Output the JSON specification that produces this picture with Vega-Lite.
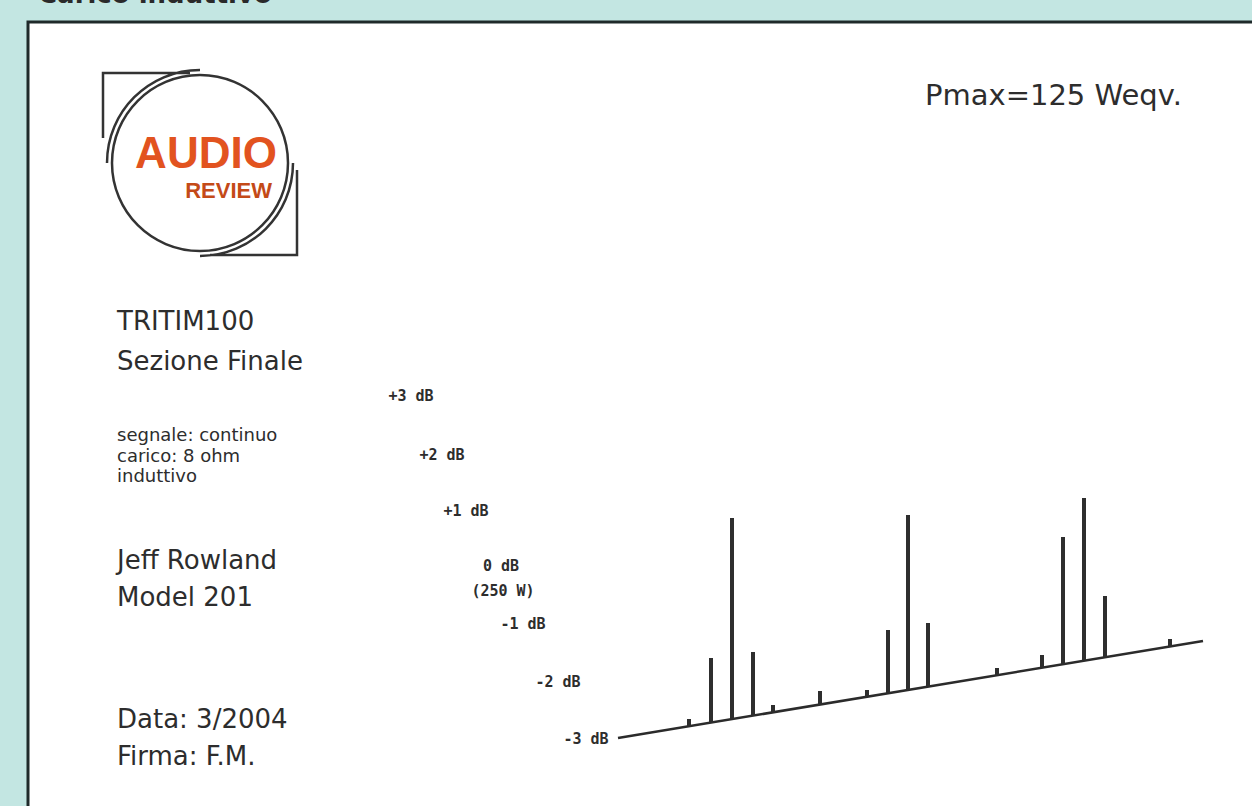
{
  "$schema": "https://vega.github.io/schema/vega-lite/v6.json",
  "width": 1252,
  "height": 806,
  "autosize": {"type": "none"},
  "padding": 0,
  "background": "#c3e6e2",
  "config": {"view": {"stroke": null}},
  "datasets": {
    "panel": [{"x": 28, "x2": 1275, "y": 22, "y2": 840}],
    "logo": [{"x": 200, "y": 163}],
    "audio": [{"x": 206, "y": 168, "text": "AUDIO"}],
    "review": [{"x": 272, "y": 198, "text": "REVIEW"}],
    "pmax": [{"x": 925, "y": 96, "text": "Pmax=125 Weqv."}],
    "title": [{"x": 38, "y": 3, "text": "Carico induttivo"}],
    "bigText": [
      {"x": 117, "y": 322, "text": "TRITIM100"},
      {"x": 117, "y": 362, "text": "Sezione Finale"},
      {"x": 117, "y": 561, "text": "Jeff Rowland"},
      {"x": 117, "y": 598, "text": "Model 201"},
      {"x": 117, "y": 720, "text": "Data: 3/2004"},
      {"x": 117, "y": 757, "text": "Firma: F.M."}
    ],
    "smallText": [
      {"x": 117, "y": 436, "text": "segnale: continuo"},
      {"x": 117, "y": 456.5, "text": "carico: 8 ohm"},
      {"x": 117, "y": 477, "text": "induttivo"}
    ],
    "dbLabels": [
      {"x": 411, "y": 396, "text": "+3 dB"},
      {"x": 442, "y": 455, "text": "+2 dB"},
      {"x": 466, "y": 511, "text": "+1 dB"},
      {"x": 501, "y": 566, "text": "0 dB"},
      {"x": 503, "y": 591, "text": "(250 W)"},
      {"x": 523, "y": 624, "text": "-1 dB"},
      {"x": 558, "y": 682, "text": "-2 dB"},
      {"x": 586, "y": 739, "text": "-3 dB"}
    ],
    "baseline": [{"x": 618, "y": 738, "x2": 1203, "y2": 641}],
    "spikes": [
      {"x": 689, "base": 726.5, "top": 719},
      {"x": 711, "base": 722.9, "top": 658},
      {"x": 732, "base": 719.4, "top": 518},
      {"x": 753, "base": 715.9, "top": 652},
      {"x": 773, "base": 712.6, "top": 705},
      {"x": 820, "base": 704.7, "top": 691},
      {"x": 867, "base": 696.9, "top": 690},
      {"x": 888, "base": 693.4, "top": 630},
      {"x": 908, "base": 690.1, "top": 515},
      {"x": 928, "base": 686.8, "top": 623},
      {"x": 997, "base": 675.3, "top": 668},
      {"x": 1042, "base": 667.8, "top": 655},
      {"x": 1063, "base": 664.3, "top": 537},
      {"x": 1084, "base": 660.8, "top": 498},
      {"x": 1105, "base": 657.3, "top": 596},
      {"x": 1170, "base": 646.5, "top": 639}
    ]
  },
  "layer": [
    {
      "data": {"name": "panel"},
      "mark": {"type": "rect", "fill": "#ffffff", "stroke": "#1f2a2a", "strokeWidth": 3},
      "encoding": {
        "x": {"field": "x", "type": "quantitative", "axis": null, "scale": {"domain": [0, 1252], "nice": false, "zero": false}},
        "x2": {"field": "x2"},
        "y": {"field": "y", "type": "quantitative", "axis": null, "scale": {"domain": [0, 806], "reverse": true, "nice": false, "zero": false}},
        "y2": {"field": "y2"}
      }
    },
    {
      "data": {"name": "title"},
      "mark": {"type": "text", "align": "left", "baseline": "alphabetic", "font": "DejaVu Sans", "fontSize": 26, "fontWeight": "bold", "color": "#2a2a2a"},
      "encoding": {
        "x": {"field": "x", "type": "quantitative"},
        "y": {"field": "y", "type": "quantitative"},
        "text": {"field": "text"}
      }
    },
    {
      "data": {"name": "logo"},
      "mark": {"type": "point", "shape": "M 0.88 0 A 0.88 0.88 0 1 1 -0.88 0 A 0.88 0.88 0 1 1 0.88 0 M -0.93 0 A 0.93 0.93 0 0 1 0 -0.93 M 0.93 0 A 0.93 0.93 0 0 1 0 0.93 M -0.1 -0.9 L -0.97 -0.9 L -0.97 -0.25 M 0.97 0.07 L 0.97 0.92 L 0.1 0.92", "size": 40000, "filled": false, "stroke": "#333333", "strokeWidth": 2.5, "opacity": 1},
      "encoding": {
        "x": {"field": "x", "type": "quantitative"},
        "y": {"field": "y", "type": "quantitative"}
      }
    },
    {
      "data": {"name": "audio"},
      "mark": {"type": "text", "align": "center", "baseline": "alphabetic", "font": "Liberation Sans", "fontSize": 44, "fontWeight": "bold", "color": "#e2531f"},
      "encoding": {
        "x": {"field": "x", "type": "quantitative"},
        "y": {"field": "y", "type": "quantitative"},
        "text": {"field": "text"}
      }
    },
    {
      "data": {"name": "review"},
      "mark": {"type": "text", "align": "right", "baseline": "alphabetic", "font": "Liberation Sans", "fontSize": 22, "fontWeight": "bold", "color": "#c44a18"},
      "encoding": {
        "x": {"field": "x", "type": "quantitative"},
        "y": {"field": "y", "type": "quantitative"},
        "text": {"field": "text"}
      }
    },
    {
      "data": {"name": "pmax"},
      "mark": {"type": "text", "align": "left", "baseline": "middle", "font": "DejaVu Sans", "fontSize": 29, "color": "#2d2d2d"},
      "encoding": {
        "x": {"field": "x", "type": "quantitative"},
        "y": {"field": "y", "type": "quantitative"},
        "text": {"field": "text"}
      }
    },
    {
      "data": {"name": "bigText"},
      "mark": {"type": "text", "align": "left", "baseline": "middle", "font": "DejaVu Sans", "fontSize": 26, "color": "#2d2d2d"},
      "encoding": {
        "x": {"field": "x", "type": "quantitative"},
        "y": {"field": "y", "type": "quantitative"},
        "text": {"field": "text"}
      }
    },
    {
      "data": {"name": "smallText"},
      "mark": {"type": "text", "align": "left", "baseline": "middle", "font": "DejaVu Sans", "fontSize": 18, "color": "#2d2d2d"},
      "encoding": {
        "x": {"field": "x", "type": "quantitative"},
        "y": {"field": "y", "type": "quantitative"},
        "text": {"field": "text"}
      }
    },
    {
      "data": {"name": "dbLabels"},
      "mark": {"type": "text", "align": "center", "baseline": "middle", "font": "DejaVu Sans Mono", "fontSize": 15, "fontWeight": "bold", "color": "#2d2d2d"},
      "encoding": {
        "x": {"field": "x", "type": "quantitative"},
        "y": {"field": "y", "type": "quantitative"},
        "text": {"field": "text"}
      }
    },
    {
      "data": {"name": "baseline"},
      "mark": {"type": "rule", "stroke": "#2b2b2b", "strokeWidth": 2.5},
      "encoding": {
        "x": {"field": "x", "type": "quantitative"},
        "y": {"field": "y", "type": "quantitative"},
        "x2": {"field": "x2"},
        "y2": {"field": "y2"}
      }
    },
    {
      "data": {"name": "spikes"},
      "mark": {"type": "rule", "stroke": "#2e2e2e", "strokeWidth": 4},
      "encoding": {
        "x": {"field": "x", "type": "quantitative"},
        "y": {"field": "base", "type": "quantitative"},
        "y2": {"field": "top"}
      }
    }
  ]
}
